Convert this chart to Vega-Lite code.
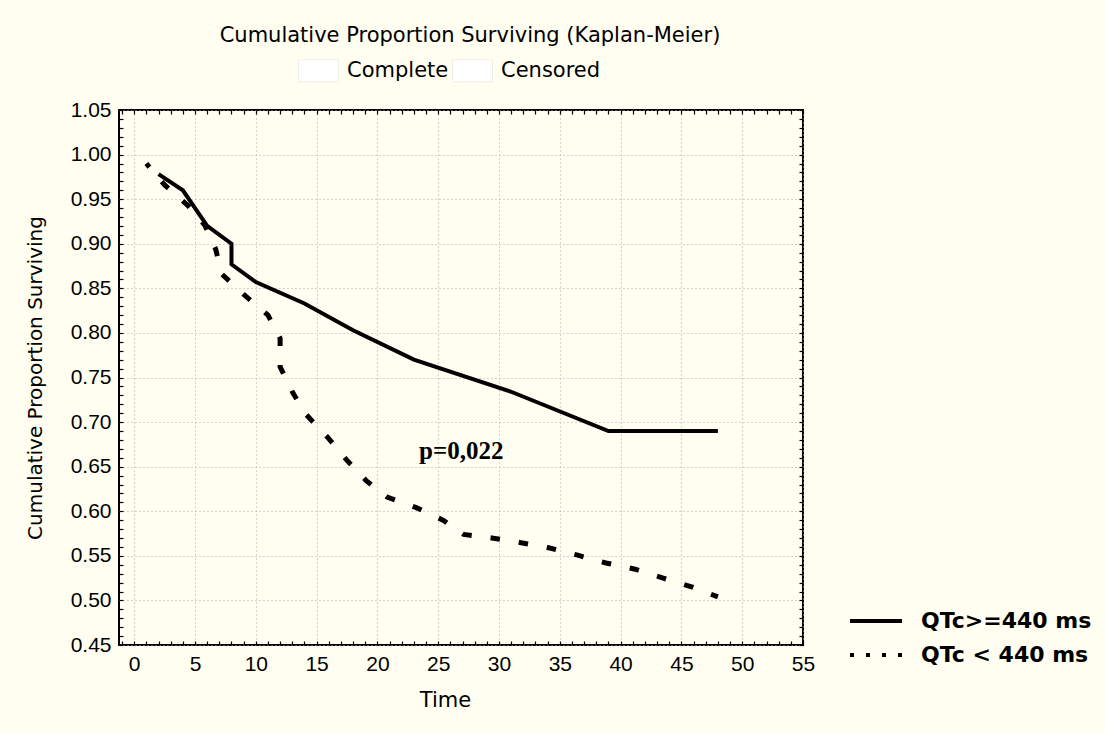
{
  "$schema": "https://vega.github.io/schema/vega-lite/v6.json",
  "width": 684,
  "height": 535,
  "autosize": {"type": "none"},
  "padding": {"left": 119, "top": 110, "right": 302, "bottom": 88},
  "background": "#fffef0",
  "config": {
    "view": {"fill": "white", "stroke": "black", "strokeWidth": 2},
    "font": "DejaVu Sans"
  },
  "title": {
    "text": "Cumulative Proportion Surviving (Kaplan-Meier)",
    "font": "DejaVu Sans",
    "fontSize": 21,
    "fontWeight": "normal",
    "color": "black",
    "anchor": "middle",
    "frame": "group",
    "dx": 9,
    "offset": 4
  },
  "datasets": {
    "curves": [
      {"group": "QTc>=440 ms", "i": 1, "t": 2, "s": 0.978},
      {"group": "QTc>=440 ms", "i": 2, "t": 4, "s": 0.960},
      {"group": "QTc>=440 ms", "i": 3, "t": 6, "s": 0.920},
      {"group": "QTc>=440 ms", "i": 4, "t": 8, "s": 0.900},
      {"group": "QTc>=440 ms", "i": 5, "t": 8, "s": 0.877},
      {"group": "QTc>=440 ms", "i": 6, "t": 10, "s": 0.857},
      {"group": "QTc>=440 ms", "i": 7, "t": 14, "s": 0.833},
      {"group": "QTc>=440 ms", "i": 8, "t": 18, "s": 0.803},
      {"group": "QTc>=440 ms", "i": 9, "t": 23, "s": 0.770},
      {"group": "QTc>=440 ms", "i": 10, "t": 31, "s": 0.734},
      {"group": "QTc>=440 ms", "i": 11, "t": 39, "s": 0.690},
      {"group": "QTc>=440 ms", "i": 12, "t": 48, "s": 0.690},
      {"group": "QTc < 440 ms", "i": 1, "t": 1, "s": 0.990},
      {"group": "QTc < 440 ms", "i": 2, "t": 2.5, "s": 0.966},
      {"group": "QTc < 440 ms", "i": 3, "t": 4.4, "s": 0.943},
      {"group": "QTc < 440 ms", "i": 4, "t": 5.8, "s": 0.921},
      {"group": "QTc < 440 ms", "i": 5, "t": 6.7, "s": 0.894},
      {"group": "QTc < 440 ms", "i": 6, "t": 7.2, "s": 0.866},
      {"group": "QTc < 440 ms", "i": 7, "t": 9.1, "s": 0.842},
      {"group": "QTc < 440 ms", "i": 8, "t": 11, "s": 0.820},
      {"group": "QTc < 440 ms", "i": 9, "t": 12, "s": 0.794},
      {"group": "QTc < 440 ms", "i": 10, "t": 12, "s": 0.762},
      {"group": "QTc < 440 ms", "i": 11, "t": 13, "s": 0.734},
      {"group": "QTc < 440 ms", "i": 12, "t": 14.1, "s": 0.709},
      {"group": "QTc < 440 ms", "i": 13, "t": 15.9, "s": 0.683},
      {"group": "QTc < 440 ms", "i": 14, "t": 17.5, "s": 0.657},
      {"group": "QTc < 440 ms", "i": 15, "t": 19.1, "s": 0.634},
      {"group": "QTc < 440 ms", "i": 16, "t": 20.8, "s": 0.616},
      {"group": "QTc < 440 ms", "i": 17, "t": 23.2, "s": 0.604},
      {"group": "QTc < 440 ms", "i": 18, "t": 25.4, "s": 0.590},
      {"group": "QTc < 440 ms", "i": 19, "t": 27.1, "s": 0.574},
      {"group": "QTc < 440 ms", "i": 20, "t": 29.4, "s": 0.570},
      {"group": "QTc < 440 ms", "i": 21, "t": 31.7, "s": 0.565},
      {"group": "QTc < 440 ms", "i": 22, "t": 34.1, "s": 0.559},
      {"group": "QTc < 440 ms", "i": 23, "t": 36.4, "s": 0.551},
      {"group": "QTc < 440 ms", "i": 24, "t": 38.8, "s": 0.542},
      {"group": "QTc < 440 ms", "i": 25, "t": 41.2, "s": 0.535},
      {"group": "QTc < 440 ms", "i": 26, "t": 43.5, "s": 0.525},
      {"group": "QTc < 440 ms", "i": 27, "t": 45.9, "s": 0.515},
      {"group": "QTc < 440 ms", "i": 28, "t": 48, "s": 0.504}
    ],
    "note": [{"t": 26.9, "s": 0.668, "label": "p=0,022"}],
    "events": [{"kind": "Complete"}, {"kind": "Censored"}]
  },
  "layer": [
    {
      "data": {"name": "curves"},
      "transform": [{"filter": "datum.group === 'QTc>=440 ms'"}],
      "mark": {"type": "line", "color": "black", "strokeWidth": 4},
      "encoding": {
        "x": {
          "field": "t", "type": "quantitative",
          "scale": {"domain": [-1.25, 55], "nice": false, "zero": false},
          "axis": {
            "values": [-1,0,1,2,3,4,5,6,7,8,9,10,11,12,13,14,15,16,17,18,19,20,21,22,23,24,25,26,27,28,29,30,31,32,33,34,35,36,37,38,39,40,41,42,43,44,45,46,47,48,49,50,51,52,53,54,55],
            "format": "d",
            "labelExpr": "datum.value % 5 === 0 ? datum.label : ''",
            "labelFont": "Liberation Sans", "labelFontSize": 21, "labelColor": "black",
            "labelPadding": 12, "labelOverlap": false, "labelFlush": false,
            "tickSize": -4, "tickColor": "black", "tickWidth": 1.2,
            "domain": false,
            "grid": true, "gridColor": "#a8a8a8", "gridDash": [1, 3], "gridWidth": 1,
            "gridOpacity": {"condition": {"test": "datum.value % 5 === 0", "value": 1}, "value": 0},
            "title": "Time", "titleFont": "DejaVu Sans", "titleFontSize": 21, "titleFontWeight": "normal",
            "titleColor": "black", "titleX": 326, "titleY": 55, "titleBaseline": "middle", "titleAlign": "center"
          }
        },
        "y": {
          "field": "s", "type": "quantitative",
          "scale": {"domain": [0.45, 1.05], "nice": false, "zero": false},
          "axis": {
            "values": [0.45,0.46,0.47,0.48,0.49,0.5,0.51,0.52,0.53,0.54,0.55,0.56,0.57,0.58,0.59,0.6,0.61,0.62,0.63,0.64,0.65,0.66,0.67,0.68,0.69,0.7,0.71,0.72,0.73,0.74,0.75,0.76,0.77,0.78,0.79,0.8,0.81,0.82,0.83,0.84,0.85,0.86,0.87,0.88,0.89,0.9,0.91,0.92,0.93,0.94,0.95,0.96,0.97,0.98,0.99,1.0,1.01,1.02,1.03,1.04,1.05],
            "format": ".2f",
            "labelExpr": "round(datum.value * 100) % 5 === 0 ? datum.label : ''",
            "labelFont": "Liberation Sans", "labelFontSize": 21, "labelColor": "black",
            "labelPadding": 12, "labelOverlap": false, "labelFlush": false,
            "tickSize": -4, "tickColor": "black", "tickWidth": 1.2,
            "domain": false,
            "grid": true, "gridColor": "#a8a8a8", "gridDash": [1, 3], "gridWidth": 1,
            "gridOpacity": {"condition": {"test": "round(datum.value * 100) % 5 === 0", "value": 1}, "value": 0},
            "title": "Cumulative Proportion Surviving", "titleFont": "DejaVu Sans", "titleFontSize": 20,
            "titleFontWeight": "normal", "titleColor": "black", "titleX": -84, "titleY": 267.5,
            "titleAngle": -90, "titleBaseline": "middle", "titleAlign": "center"
          }
        },
        "order": {"field": "i", "type": "quantitative"}
      }
    },
    {
      "data": {"name": "curves"},
      "transform": [{"filter": "datum.group === 'QTc < 440 ms'"}],
      "mark": {"type": "line", "color": "black", "strokeWidth": 5, "strokeDash": [9.5, 19], "strokeDashOffset": 4.75},
      "encoding": {
        "x": {"field": "t", "type": "quantitative", "scale": {"domain": [-1.25, 55], "nice": false, "zero": false}, "axis": null},
        "y": {"field": "s", "type": "quantitative", "scale": {"domain": [0.45, 1.05], "nice": false, "zero": false}, "axis": null},
        "order": {"field": "i", "type": "quantitative"}
      }
    },
    {
      "data": {"name": "note"},
      "mark": {"type": "text", "font": "Liberation Serif", "fontSize": 25, "fontWeight": "bold", "color": "black", "align": "center", "baseline": "middle"},
      "encoding": {
        "x": {
          "field": "t", "type": "quantitative",
          "scale": {"domain": [-1.25, 55], "nice": false, "zero": false},
          "axis": {
            "orient": "top",
            "values": [-1,0,1,2,3,4,5,6,7,8,9,10,11,12,13,14,15,16,17,18,19,20,21,22,23,24,25,26,27,28,29,30,31,32,33,34,35,36,37,38,39,40,41,42,43,44,45,46,47,48,49,50,51,52,53,54,55],
            "labels": false, "grid": false, "domain": false,
            "tickSize": -4, "tickColor": "black", "tickWidth": 1.2, "title": null
          }
        },
        "y": {
          "field": "s", "type": "quantitative",
          "scale": {"domain": [0.45, 1.05], "nice": false, "zero": false},
          "axis": {
            "orient": "right",
            "values": [0.45,0.46,0.47,0.48,0.49,0.5,0.51,0.52,0.53,0.54,0.55,0.56,0.57,0.58,0.59,0.6,0.61,0.62,0.63,0.64,0.65,0.66,0.67,0.68,0.69,0.7,0.71,0.72,0.73,0.74,0.75,0.76,0.77,0.78,0.79,0.8,0.81,0.82,0.83,0.84,0.85,0.86,0.87,0.88,0.89,0.9,0.91,0.92,0.93,0.94,0.95,0.96,0.97,0.98,0.99,1.0,1.01,1.02,1.03,1.04,1.05],
            "labels": false, "grid": false, "domain": false,
            "tickSize": -4, "tickColor": "black", "tickWidth": 1.2, "title": null
          }
        },
        "text": {"field": "label", "type": "nominal"}
      }
    },
    {
      "data": {"name": "curves"},
      "transform": [{"filter": "false"}],
      "mark": {"type": "line", "color": "black"},
      "encoding": {
        "x": {"field": "t", "type": "quantitative", "scale": {"domain": [-1.25, 55], "nice": false, "zero": false}, "axis": null},
        "y": {"field": "s", "type": "quantitative", "scale": {"domain": [0.45, 1.05], "nice": false, "zero": false}, "axis": null},
        "strokeDash": {
          "field": "group", "type": "nominal",
          "scale": {"domain": ["QTc>=440 ms", "QTc < 440 ms"], "range": [[1, 0], [4, 12]]},
          "legend": {
            "orient": "none", "legendX": 736, "legendY": 490, "title": null, "padding": 0,
            "symbolType": "M-1.37,0H1.37", "symbolSize": 1444, "symbolStrokeWidth": 4,
            "symbolStrokeColor": "black", "symbolFillColor": "transparent", "symbolOpacity": 1,
            "labelFont": "DejaVu Sans", "labelFontWeight": "bold", "labelFontSize": 22,
            "labelColor": "black", "labelOffset": 24, "rowPadding": 2, "labelLimit": 300
          }
        }
      }
    },
    {
      "data": {"name": "events"},
      "transform": [{"filter": "false"}],
      "mark": {"type": "point", "filled": true},
      "encoding": {
        "fill": {
          "field": "kind", "type": "nominal",
          "scale": {"domain": ["Complete", "Censored"], "range": ["white", "white"]},
          "legend": {
            "orient": "none", "legendX": 179, "legendY": -60, "direction": "horizontal",
            "title": null, "padding": 0,
            "symbolType": "M-1,-0.55H1V0.55H-1Z", "symbolSize": 1600,
            "symbolFillColor": "white", "symbolStrokeColor": "#eeeee2", "symbolStrokeWidth": 1,
            "symbolOpacity": 1,
            "labelFont": "DejaVu Sans", "labelFontSize": 21, "labelColor": "black",
            "labelOffset": 8, "columnPadding": 1
          }
        }
      }
    }
  ],
  "resolve": {"axis": {"x": "independent", "y": "independent"}}
}
